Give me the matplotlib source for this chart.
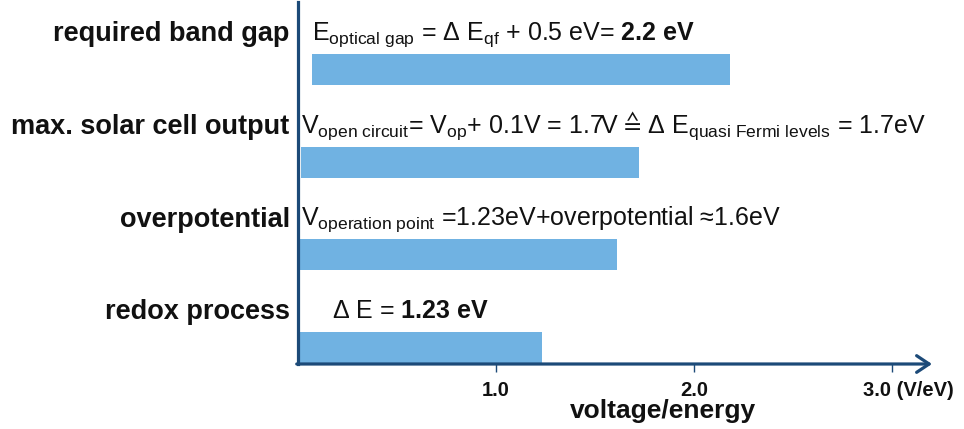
"""Energy levels needed for solar water splitting, drawn as a horizontal bar chart."""
import matplotlib
matplotlib.use('Agg')
import matplotlib.pyplot as plt
import matplotlib.transforms as mtransforms

# data (bottom to top)
categories = ['redox process', 'overpotential', 'max. solar cell output', 'required band gap']
values = [1.23, 1.61, 1.72, 2.18]
bar_starts = [0.0, 0.01, 0.015, 0.07]
notes = [
    r'Δ E = $\mathbf{1.23\ eV}$',
    r'V$_{\mathrm{operation\ point}}$ =1.23eV+overpotential ≈1.6eV',
    r'V$_{\mathrm{open\ circuit}}$= V$_{\mathrm{op}}$+ 0.1V = 1.7V $≙$ Δ E$_{\mathrm{quasi\ Fermi\ levels}}$ = 1.7eV',
    r'E$_{\mathrm{optical\ gap}}$ = Δ E$_{\mathrm{qf}}$ + 0.5 eV= $\mathbf{2.2\ eV}$',
]
note_x = [0.17, 0.015, 0.015, 0.07]
xticks = [1, 2, 3]
xtick_labels = ['1.0', '2.0', '3.0 (V/eV)']

BAR = '#70B2E2'
NAVY = '#1C4A78'
INK = '#111111'

plt.rcParams['font.family'] = ['Liberation Sans', 'DejaVu Sans']
plt.rcParams['mathtext.fontset'] = 'custom'
plt.rcParams['mathtext.rm'] = 'Liberation Sans'
plt.rcParams['mathtext.bf'] = 'Liberation Sans:bold'
plt.rcParams['mathtext.it'] = 'Liberation Sans:italic'

fig = plt.figure(figsize=(9.64, 4.29), dpi=100)
ax = fig.add_axes([298 / 964, 65 / 429, 634 / 964, 362 / 429])

pos = list(range(len(categories)))
widths = [v - s for v, s in zip(values, bar_starts)]
ax.barh(pos, widths, left=bar_starts, height=0.335, color=BAR, edgecolor='none')

for p, txt, x in zip(pos, notes, note_x):
    ax.text(x, p + 0.32, txt, fontsize=18, va='baseline', ha='left', color=INK)

ax.set_xlim(0, 3.2)
ax.set_ylim(-0.178, 3.727)

ax.set_yticks([p + 0.41 for p in pos])
ax.set_yticklabels(categories, fontsize=19.5, fontweight='bold', color=INK)
ax.tick_params(axis='y', length=0, pad=6)

ax.set_xticks(xticks)
ax.set_xticklabels(xtick_labels, fontsize=14.5, fontweight='bold', color=INK)
ax.tick_params(axis='x', length=6, width=1, color=NAVY, pad=6)
last = ax.get_xticklabels()[-1]
last.set_horizontalalignment('left')
last.set_transform(last.get_transform() + mtransforms.ScaledTranslation(-29 / 100, 0, fig.dpi_scale_trans))

ax.set_xlabel('voltage/energy', fontsize=19, fontweight='bold', color=INK)
ax.xaxis.set_label_coords((663 - 298) / 634, -35 / 362)

for s in ['top', 'right', 'bottom']:
    ax.spines[s].set_visible(False)
ax.spines['left'].set_color(NAVY)
ax.spines['left'].set_linewidth(2.3)
ax.annotate('', xy=(1, 0), xytext=(-0.002, 0), xycoords='axes fraction',
            arrowprops=dict(arrowstyle='->,head_length=0.9,head_width=0.6',
                            color=NAVY, lw=2.3, shrinkA=0, shrinkB=0))

fig.savefig('out.png', dpi=100)
